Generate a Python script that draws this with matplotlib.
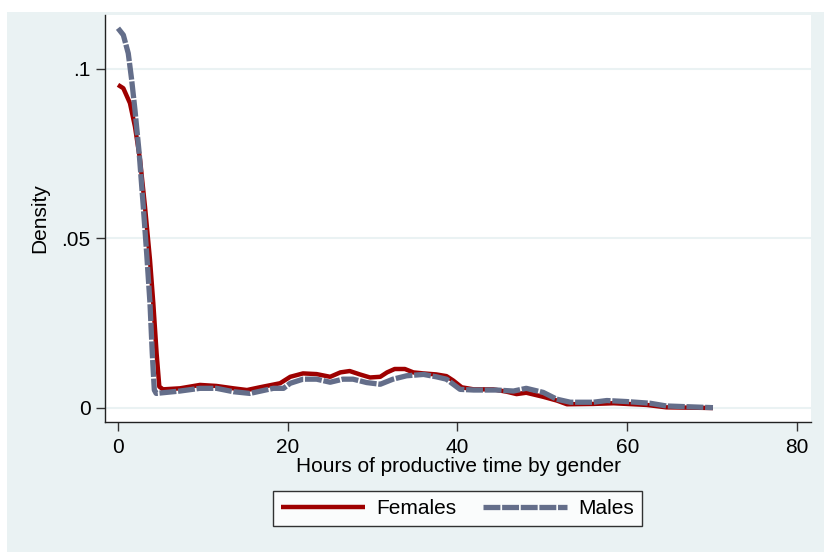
import matplotlib
matplotlib.use("Agg")
import matplotlib.pyplot as plt
from matplotlib.patches import Rectangle

plt.rcParams['font.family'] = ['Liberation Sans', 'DejaVu Sans']

# Female kernel density (hours, density)
fem_x = [0, 0.63, 1.41, 2.0, 2.6, 3.18, 3.77, 4.16, 4.55, 4.87, 5.3, 7.3, 9.66, 11.6, 13.6,
         15.2, 16.7, 19.1, 20.3, 21.8, 23.4, 25.0, 26.2, 27.3, 28.5, 29.7, 30.9, 31.7,
         32.6, 33.8, 34.8, 36.0, 37.5, 38.7, 39.5, 40.5, 41.9, 44.2, 45.8, 46.96, 48.1,
         50.1, 51.7, 52.9, 56.0, 58.4, 62.3, 64.6, 70.1]
fem_y = [0.0953, 0.0943, 0.0899, 0.083, 0.0732, 0.0594, 0.0437, 0.0309, 0.0161, 0.0063,
         0.0055, 0.0058, 0.0068, 0.0065, 0.0058, 0.0053, 0.0061, 0.0073, 0.0092, 0.0102,
         0.0100, 0.0092, 0.0105, 0.0109, 0.0099, 0.0090, 0.0092, 0.0105, 0.0115, 0.0115,
         0.0105, 0.0102, 0.0099, 0.0094, 0.0081, 0.0061, 0.0055, 0.0055, 0.0048, 0.0041,
         0.0045, 0.0033, 0.0022, 0.0011, 0.0012, 0.0014, 0.0009, 0.0002, 0.0000]

# Male kernel density
male_x = [0, 0.63, 1.21, 1.61, 2.0, 2.5, 2.98, 3.38, 3.77, 4.04, 4.28, 4.5, 7.3, 9.66,
          11.6, 13.6, 15.55, 18.3, 19.5, 20.3, 21.8, 23.4, 25.0, 26.5, 27.7, 29.3, 30.9,
          32.4, 34.0, 36.0, 37.5, 38.7, 40.3, 41.9, 44.6, 46.6, 48.1, 50.1, 51.7, 53.3,
          56.0, 57.6, 59.9, 62.7, 64.6, 70.1]
male_y = [0.112, 0.110, 0.1046, 0.0968, 0.0879, 0.0751, 0.0594, 0.0456, 0.0309, 0.0161,
          0.0053, 0.0043, 0.0050, 0.0058, 0.0058, 0.0048, 0.0043, 0.0058, 0.0058, 0.0073,
          0.0085, 0.0085, 0.0076, 0.0085, 0.0085, 0.0075, 0.0070, 0.0085, 0.0095, 0.0099,
          0.0092, 0.0085, 0.0055, 0.0053, 0.0053, 0.0050, 0.0058, 0.0046, 0.0026, 0.0017,
          0.0017, 0.0022, 0.0019, 0.0014, 0.0006, 0.0001]

x_ticks = [0, 20, 40, 60, 80]
x_tick_labels = ["0", "20", "40", "60", "80"]
y_ticks = [0, 0.05, 0.1]
y_tick_labels = ["0", ".05", ".1"]

BG = "#EAF2F3"
RED = "#9E0000"
GRAY = "#646E8A"
FS = 15

fig = plt.figure(figsize=(8.24, 5.52), dpi=100, facecolor="white")
fig.patches.append(Rectangle((7 / 824, 0), 1 - 7 / 824, 1 - 12 / 552,
                             transform=fig.transFigure, facecolor=BG,
                             edgecolor="none", zorder=-10))

ax = fig.add_axes([105 / 824, 1 - 422 / 552, (811 - 105) / 824, (422 - 15) / 552])
ax.set_facecolor("white")

for y in y_ticks:
    ax.axhline(y, color=BG, lw=1.5, zorder=1)

ax.plot(fem_x, fem_y, color=RED, lw=3.2, solid_joinstyle="round",
        solid_capstyle="butt", label="Females", zorder=3)
ax.plot(male_x, male_y, color=GRAY, lw=3.8, dashes=(3.2, 0.33),
        dash_capstyle="butt", dash_joinstyle="round", label="Males", zorder=4)

ax.set_xlim(-1.53, 81.65)
ax.set_ylim(-0.00413, 0.1159)

ax.set_xticks(x_ticks)
ax.set_xticklabels(x_tick_labels)
ax.set_yticks(y_ticks)
ax.set_yticklabels(y_tick_labels)
ax.tick_params(axis="both", direction="out", length=6.5, width=1.0, color="#333333",
               labelsize=FS, pad=4)
ax.tick_params(axis="x", pad=5)
for s in ["top", "right"]:
    ax.spines[s].set_visible(False)
for s in ["left", "bottom"]:
    ax.spines[s].set_color("#222222")
    ax.spines[s].set_linewidth(1.0)

ax.set_xlabel("Hours of productive time by gender", fontsize=FS, labelpad=0)
ax.set_ylabel("Density", fontsize=FS, labelpad=9)

leg = ax.legend(loc="center", bbox_to_anchor=((274 + 641) / 2 / 824, 1 - 508.5 / 552),
                bbox_transform=fig.transFigure, ncol=2, fontsize=FS,
                frameon=True, fancybox=False, shadow=False,
                handlelength=4.0, handletextpad=0.55, columnspacing=1.3,
                borderpad=0.4, borderaxespad=0)
leg.get_frame().set_edgecolor("black")
leg.get_frame().set_linewidth(1.0)
leg.get_frame().set_facecolor("white")

fig.savefig("out.png", dpi=100, facecolor="white")
